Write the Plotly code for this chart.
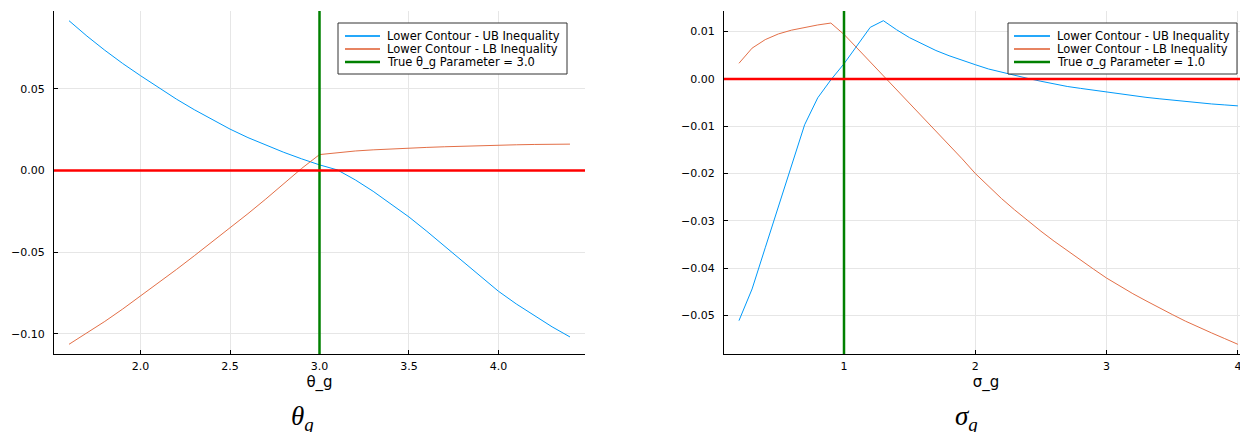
import plotly.graph_objects as go

# ---------------- data ----------------
theta_x = [1.6, 1.7, 1.8, 1.9, 2.0, 2.1, 2.2, 2.3, 2.4, 2.5, 2.6, 2.7, 2.8, 2.9, 3.0,
           3.1, 3.2, 3.3, 3.4, 3.5, 3.6, 3.7, 3.8, 3.9, 4.0, 4.1, 4.2, 4.3, 4.4]
theta_ub = [0.0917, 0.0823, 0.0736, 0.0655, 0.0580, 0.0506, 0.0437, 0.0372, 0.0310, 0.0253,
            0.0201, 0.0154, 0.0111, 0.0071, 0.0034, 0.0003, -0.0058, -0.0128, -0.0205, -0.0285,
            -0.0373, -0.0465, -0.0558, -0.0651, -0.0740, -0.0818, -0.0890, -0.0958, -0.1020]
theta_lb = [-0.1065, -0.0997, -0.0925, -0.0849, -0.0770, -0.0689, -0.0607, -0.0523, -0.0438, -0.0353,
            -0.0265, -0.0175, -0.0083, 0.0012, 0.0097, 0.0110, 0.0119, 0.0126, 0.0132, 0.0137,
            0.0141, 0.0145, 0.0149, 0.0152, 0.0155, 0.0157, 0.0159, 0.0160, 0.0161]

sigma_x = [0.2, 0.3, 0.4, 0.5, 0.6, 0.7, 0.8, 0.9, 1.0, 1.1, 1.2, 1.3, 1.4, 1.5, 1.6, 1.7, 1.8, 1.9,
           2.0, 2.1, 2.2, 2.3, 2.4, 2.5, 2.6, 2.7, 2.8, 2.9, 3.0, 3.1, 3.2, 3.3, 3.4, 3.5, 3.6, 3.7,
           3.8, 3.9, 4.0]
sigma_ub = [-0.0511, -0.0444, -0.0357, -0.0271, -0.0184, -0.0097, -0.0040, -0.0002, 0.0032, 0.0071,
            0.0109, 0.0123, 0.0104, 0.0087, 0.0073, 0.0060, 0.0049, 0.0039, 0.0030, 0.0021,
            0.0014, 0.0007, 0.0001, -0.0005, -0.0011, -0.0016, -0.0020, -0.0024, -0.0028, -0.0032,
            -0.0036, -0.0039, -0.0042, -0.0045, -0.0048, -0.0050, -0.0053, -0.0055, -0.0057]
sigma_lb = [0.0033, 0.0065, 0.0083, 0.0095, 0.0103, 0.0109, 0.0114, 0.0118, 0.0094, 0.0065,
            0.0036, 0.0007, -0.0022, -0.0051, -0.0080, -0.0109, -0.0139, -0.0169, -0.0200, -0.0227,
            -0.0253, -0.0277, -0.0300, -0.0322, -0.0343, -0.0363, -0.0383, -0.0402, -0.0421, -0.0438,
            -0.0454, -0.0469, -0.0484, -0.0498, -0.0512, -0.0525, -0.0537, -0.0549, -0.0561]

TRUE_THETA = 3.0
TRUE_SIGMA = 1.0
ZERO_LEVEL = 0.0

theta_xticks = [2.0, 2.5, 3.0, 3.5, 4.0]
theta_yticks = [-0.10, -0.05, 0.00, 0.05]
sigma_xticks = [1, 2, 3, 4]
sigma_yticks = [-0.05, -0.04, -0.03, -0.02, -0.01, 0.00, 0.01]

legend_labels_theta = ["Lower Contour - UB Inequality", "Lower Contour - LB Inequality",
                       "True θ_g Parameter = 3.0"]
legend_labels_sigma = ["Lower Contour - UB Inequality", "Lower Contour - LB Inequality",
                       "True σ_g Parameter = 1.0"]

# ---------------- style ----------------
PAGE_OFF = 8            # default page body margin
W, H = 1248 - PAGE_OFF, 432 - PAGE_OFF
BLUE = "#009AFA"
ORANGE = "#E36F47"
GREEN = "#008000"
RED = "#FF0000"
GRID = "#e6e6e6"
FONT = "DejaVu Sans"


def px_x(p):
    return (p - PAGE_OFF) / W


def px_y(p):
    return 1 - (p - PAGE_OFF) / H


fig = go.Figure()

fig.add_trace(go.Scatter(x=theta_x, y=theta_ub, mode="lines", line=dict(color=BLUE, width=1),
                         xaxis="x", yaxis="y", showlegend=False, name=legend_labels_theta[0]))
fig.add_trace(go.Scatter(x=theta_x, y=theta_lb, mode="lines", line=dict(color=ORANGE, width=1),
                         xaxis="x", yaxis="y", showlegend=False, name=legend_labels_theta[1]))
fig.add_trace(go.Scatter(x=sigma_x, y=sigma_ub, mode="lines", line=dict(color=BLUE, width=1),
                         xaxis="x2", yaxis="y2", showlegend=False, name=legend_labels_sigma[0]))
fig.add_trace(go.Scatter(x=sigma_x, y=sigma_lb, mode="lines", line=dict(color=ORANGE, width=1),
                         xaxis="x2", yaxis="y2", showlegend=False, name=legend_labels_sigma[1]))

shapes = []
for xa, ya, xv in (("x", "y", TRUE_THETA), ("x2", "y2", TRUE_SIGMA)):
    shapes.append(dict(type="line", xref=xa, yref=ya + " domain", x0=xv, x1=xv, y0=0, y1=1,
                       line=dict(color=GREEN, width=2.5), layer="above"))
for xa, ya in (("x", "y"), ("x2", "y2")):
    shapes.append(dict(type="line", xref=xa + " domain", yref=ya, x0=0, x1=1,
                       y0=ZERO_LEVEL, y1=ZERO_LEVEL, line=dict(color=RED, width=2.5), layer="above"))

annotations = []
# custom legends (boxes, samples, texts)
for (bx0, bx1, sx0, sx1, tx, labels) in ((338, 567, 345, 380, 385, legend_labels_theta),
                                          (1008, 1237, 1014, 1050, 1055, legend_labels_sigma)):
    shapes.append(dict(type="rect", xref="paper", yref="paper",
                       x0=px_x(bx0), x1=px_x(bx1), y0=px_y(74), y1=px_y(23),
                       fillcolor="white", line=dict(color="#333333", width=1), layer="above"))
    for i, (col, lab) in enumerate(zip((BLUE, ORANGE, GREEN), labels)):
        yy = 36 + 13 * i
        shapes.append(dict(type="line", xref="paper", yref="paper",
                           x0=px_x(sx0), x1=px_x(sx1), y0=px_y(yy), y1=px_y(yy),
                           line=dict(color=col, width=2 if col != GREEN else 2.5),
                           opacity=0.85 if col != GREEN else 1, layer="above"))
        annotations.append(dict(text=lab, xref="paper", yref="paper", x=px_x(tx), y=px_y(yy),
                                xanchor="left", yanchor="middle", showarrow=False,
                                font=dict(family=FONT, size=11.5, color="black")))

# bottom math labels
for cx, txt in ((302, "<i>θ</i><sub><i>g</i></sub>"), (966, "<i>σ</i><sub><i>g</i></sub>")):
    annotations.append(dict(text=txt, xref="paper", yref="paper", x=px_x(cx), y=px_y(418),
                            xanchor="center", yanchor="middle", showarrow=False,
                            font=dict(family="Liberation Serif", size=27, color="black")))

axis_common = dict(showgrid=True, gridcolor=GRID, gridwidth=1, zeroline=False,
                   showline=True, linecolor="black", linewidth=1, mirror=False,
                   ticks="inside", ticklen=4, tickcolor="black", tickwidth=1,
                   tickfont=dict(family=FONT, size=11, color="black"), automargin=False)

ydom = [px_y(354), px_y(11)]

fig.update_layout(
    width=W, height=H,
    margin=dict(l=0, r=0, t=0, b=0),
    paper_bgcolor="white", plot_bgcolor="white",
    showlegend=False,
    xaxis=dict(domain=[px_x(54), px_x(585)], range=[1.516, 4.484], tickvals=theta_xticks,
               tickformat=".1f", anchor="y", ticklabelstandoff=2,
               title=dict(text="θ_g", font=dict(family=FONT, size=15, color="black"), standoff=2),
               **axis_common),
    yaxis=dict(domain=ydom, range=[-0.11245, 0.09765], tickvals=theta_yticks, tickformat=".2f",
               anchor="x", ticklabelstandoff=6, **axis_common),
    xaxis2=dict(domain=[px_x(724), 1.0], range=[0.086, 4.077], tickvals=sigma_xticks,
                tickformat="d", anchor="y2", ticklabelstandoff=2,
                title=dict(text="σ_g", font=dict(family=FONT, size=15, color="black"), standoff=2),
                **axis_common),
    yaxis2=dict(domain=ydom, range=[-0.05815, 0.01435], tickvals=sigma_yticks, tickformat=".2f",
                anchor="x2", ticklabelstandoff=6, **axis_common),
    shapes=shapes,
    annotations=annotations,
)

fig.write_html("out.html")
